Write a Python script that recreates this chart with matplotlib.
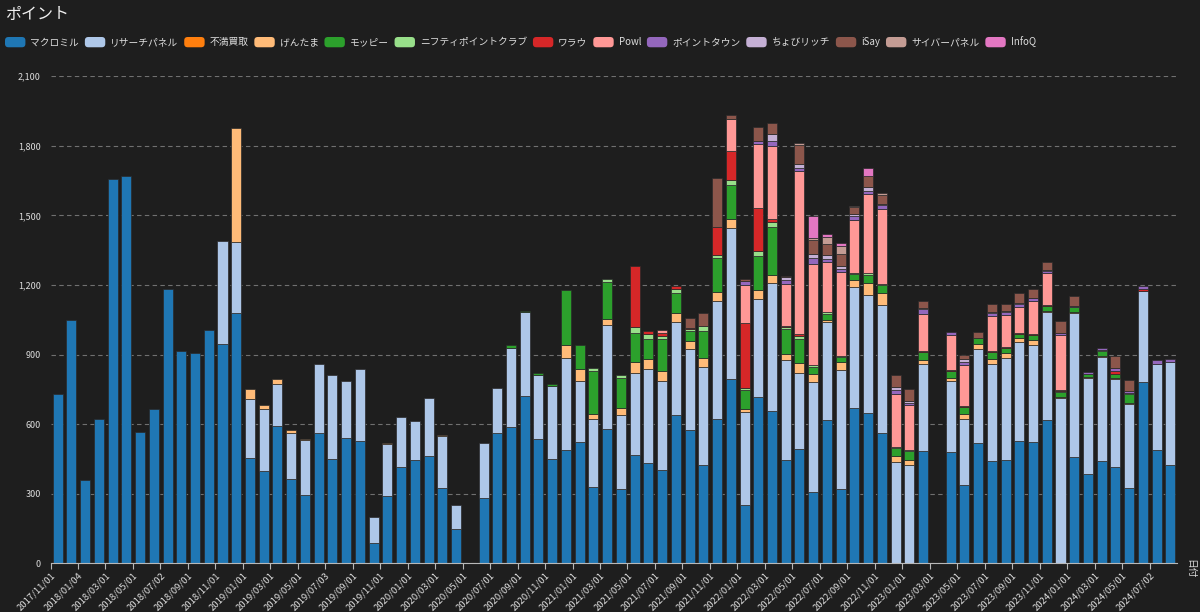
import matplotlib
matplotlib.use("Agg")
import matplotlib.pyplot as plt
import numpy as np
from matplotlib.legend_handler import HandlerPatch
from matplotlib.patches import FancyBboxPatch, Patch

plt.rcParams["font.family"] = ["Noto Sans CJK JP", "DejaVu Sans"]

# monthly points, 2017/11 .. 2024/08 (82 months), stacked bottom -> top
Z = [0] * 12

macromill = [730, 1047, 360, 624, 1655, 1668, 567, 665, 1184, 914, 907, 1004,
             946, 1079, 452, 400, 590, 365, 294, 560, 451, 542, 529, 88,
             289, 415, 445, 464, 324, 150, 0, 280, 562, 589, 722, 538,
             450, 490, 523, 327, 578, 321, 466, 434, 404, 640, 573, 424,
             622, 794, 252, 719, 656, 447, 494, 309, 619, 321, 670, 647,
             564, 0, 0, 486, 0, 478, 337, 519, 442, 447, 529, 525,
             616, 0, 460, 383, 439, 414, 324, 780, 490, 424]
research_panel = (Z +
                  [442, 305, 256, 266, 184, 198, 238, 300, 359, 243, 308, 113,
                   224, 214, 167, 247, 225, 102, 0, 240, 193, 341, 362, 276,
                   313, 394, 261, 294, 451, 318, 355, 405, 384, 400, 351, 422,
                   509, 653, 400, 422, 553, 428, 326, 472, 420, 512, 523, 508,
                   551, 435, 423, 373, 0, 306, 287, 407, 418, 437, 424, 415,
                   466, 712, 618, 415, 450, 382, 364, 395, 370, 443])
fuman = [0] * 82
gentama = (Z +
           [0, 491, 45, 15, 20, 13, 6, 0, 0, 0, 0, 0,
            5, 0, 0, 0, 5, 0, 0, 0, 0, 0, 0, 0,
            0, 56, 52, 23, 26, 29, 45, 41, 43, 40, 34, 40,
            40, 39, 14, 36, 33, 29, 43, 35, 8, 35, 27, 55,
            50, 27, 23, 19, 0, 17, 18, 19, 20, 21, 17, 22,
            7, 5, 6, 5, 3, 4, 4, 0, 0, 0])
moppy = (Z + Z +
         [0, 0, 0, 0, 0, 0, 0, 0, 0, 10, 5, 7,
          11, 238, 107, 185, 156, 129, 129, 88, 137, 86, 43, 114,
          144, 146, 81, 147, 210, 106, 105, 29, 26, 21, 27, 32,
          34, 36, 37, 31, 0, 28, 32, 27, 29, 24, 19, 21,
          21, 21, 20, 13, 24, 17, 36, 0, 0, 0])
nifty = (Z + Z + Z +
         [0, 0, 0, 12, 15, 13, 24, 21, 10, 17, 9, 24,
          16, 20, 7, 23, 18, 7, 12, 8, 10, 7, 5, 8,
          5, 4, 5, 0, 0, 0, 0, 0, 0, 0, 0, 0,
          0, 7, 0, 0, 4, 0, 5, 0, 0, 0])
warau = (Z + Z + Z +
         [0, 0, 0, 0, 0, 0, 261, 12, 14, 11, 6, 0,
          119, 125, 282, 184, 15, 7, 8, 0, 0, 0, 0, 0,
          0, 0, 0, 7, 0, 5, 4, 0, 7, 4, 4, 5,
          5, 3, 0, 0, 0, 13, 0, 8, 0, 0])
powl = (Z + Z + Z +
        [0, 0, 0, 0, 0, 0, 0, 0, 14, 0, 0, 0,
         0, 139, 164, 278, 316, 180, 705, 439, 215, 359, 227, 341,
         323, 229, 193, 160, 0, 149, 178, 0, 149, 139, 112, 142,
         136, 237, 0, 0, 0, 0, 0, 0, 0, 0])
pointtown = (Z + Z + Z + Z +
             [0, 0, 19, 13, 18, 16, 13, 26, 14, 15, 17, 16,
              17, 17, 11, 19, 0, 14, 14, 0, 13, 13, 13, 12,
              10, 10, 7, 10, 9, 11, 11, 14, 16, 15])
chobirich = (Z + Z + Z + Z +
             [0, 0, 0, 0, 31, 16, 16, 14, 16, 13, 10, 16,
              6, 13, 7, 4, 0, 0, 9, 0, 7, 4, 4, 3,
              5, 0, 0, 0, 0, 0, 0, 0, 0, 0])
isay = (Z + Z + Z +
        [0, 0, 0, 0, 0, 0, 0, 0, 0, 0, 40, 55,
         212, 19, 7, 60, 49, 4, 81, 62, 49, 51, 29, 49,
         37, 50, 52, 33, 0, 0, 21, 26, 33, 31, 45, 39,
         34, 50, 42, 0, 0, 51, 47, 0, 0, 0])
cyber_panel = (Z + Z + Z + Z +
               [0, 0, 0, 0, 0, 0, 10, 9, 32, 33, 5, 0,
                10, 0, 0, 0, 0, 0, 0, 0, 0, 0, 0, 0,
                0, 0, 0, 0, 0, 0, 0, 0, 0, 0])
infoq = (Z + Z + Z + Z +
         [0, 0, 0, 0, 0, 0, 0, 93, 11, 13, 0, 33,
          0, 0, 0, 0, 0, 0, 0, 0, 0, 0, 0, 0,
          0, 0, 0, 0, 0, 0, 0, 0, 0, 0])

series_names = ["マクロミル", "リサーチパネル", "不満買取", "げんたま", "モッピー",
                "ニフティポイントクラブ", "ワラウ", "Powl", "ポイントタウン",
                "ちょびリッチ", "iSay", "サイバーパネル", "InfoQ"]
series_values = [macromill, research_panel, fuman, gentama, moppy, nifty, warau,
                 powl, pointtown, chobirich, isay, cyber_panel, infoq]
colors = ["#1f77b4", "#aec7e8", "#ff7f0e", "#ffbb78", "#2ca02c", "#98df8a",
          "#d62728", "#ff9896", "#9467bd", "#c5b0d5", "#8c564b", "#c49c94",
          "#e377c2"]

tick_labels = ["2017/11/01", "2018/01/04", "2018/03/01", "2018/05/01", "2018/07/02",
               "2018/09/01", "2018/11/01", "2019/01/01", "2019/03/01", "2019/05/01",
               "2019/07/03", "2019/09/01", "2019/11/01", "2020/01/01", "2020/03/01",
               "2020/05/01", "2020/07/01", "2020/09/01", "2020/11/01", "2021/01/01",
               "2021/03/01", "2021/05/01", "2021/07/01", "2021/09/01", "2021/11/01",
               "2022/01/01", "2022/03/01", "2022/05/01", "2022/07/01", "2022/09/01",
               "2022/11/01", "2023/01/01", "2023/03/01", "2023/05/01", "2023/07/01",
               "2023/09/01", "2023/11/01", "2024/01/01", "2024/03/01", "2024/05/01",
               "2024/07/02"]

BG = "#1e1e1e"
FG = "#dcdcdc"


class RoundBox(HandlerPatch):
    def create_artists(self, legend, orig_handle, xdescent, ydescent,
                       width, height, fontsize, trans):
        box = FancyBboxPatch((-xdescent, -ydescent), width, height,
                             boxstyle="round,pad=0,rounding_size=2.5",
                             facecolor=orig_handle.get_facecolor(),
                             edgecolor="none", transform=trans)
        return [box]


fig = plt.figure(figsize=(12, 6.12), dpi=100, facecolor=BG)
ax = fig.add_axes([50.5 / 1200, 48.7 / 612, 1126.5 / 1200, 487 / 612])
ax.set_facecolor(BG)

n = len(macromill)
x = np.arange(n) + 0.52
bottom = np.zeros(n)
for name, vals, c in zip(series_names, series_values, colors):
    vals = np.array(vals, dtype=float)
    m = vals > 0
    if m.any():
        ax.bar(x[m], vals[m], width=0.73, bottom=bottom[m], color=c,
               edgecolor="#2a2a2a", linewidth=0.5, zorder=3)
    bottom += vals

ax.set_xlim(0, 82)
ax.set_ylim(0, 2100)
yt = np.arange(0, 2101, 300)
ax.set_yticks(yt)
ax.set_yticklabels([f"{v:,}" for v in yt], color=FG, fontsize=6.5)
ax.tick_params(axis="y", length=0, pad=7)
ax.grid(axis="y", color="#707070", linestyle=(0, (4, 3)), linewidth=0.8, zorder=0)

ax.set_xticks(np.arange(0, 81, 2))
ax.set_xticklabels(tick_labels, rotation=45, ha="right", rotation_mode="anchor",
                   color=FG, fontsize=6.8)
ax.tick_params(axis="x", length=4, color="#b8b8b8", pad=1.5)

for side in ["top", "right", "left"]:
    ax.spines[side].set_visible(False)
ax.spines["bottom"].set_color("#b8b8b8")
ax.spines["bottom"].set_zorder(4)

fig.text(5 / 1200, 1 - 14 / 612, "ポイント", color="#f0f0f0", fontsize=11.5,
         ha="left", va="center")
fig.text(1190 / 1200, 1 - 569 / 612, "日付", color=FG, fontsize=7,
         rotation=-90, ha="center", va="center")

handles = [Patch(facecolor=c) for c in colors]
fig.legend(handles, series_names, loc="center left",
           bbox_to_anchor=(5 / 1200, 1 - 42 / 612), ncol=len(series_names),
           frameon=False, fontsize=7.0, labelcolor=FG,
           handlelength=2.1, handleheight=1.25, handletextpad=0.5,
           columnspacing=0.6, borderaxespad=0, borderpad=0,
           handler_map={Patch: RoundBox()})

fig.savefig("out.png", dpi=100, facecolor=BG)
